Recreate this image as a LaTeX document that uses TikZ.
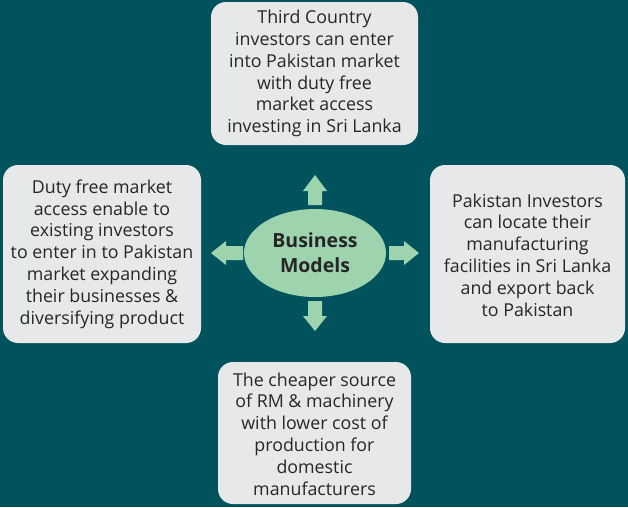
\documentclass[tikz,border=0pt]{standalone}
\usepackage{fontspec}
\setmainfont{Open Sans}
\usetikzlibrary{shapes.geometric}
\definecolor{bgteal}{HTML}{00535D}
\definecolor{boxgray}{HTML}{E7E8EA}
\definecolor{mint}{HTML}{9DD4AE}
\definecolor{inkdark}{HTML}{262626}
\tikzset{
  infobox/.style={fill=boxgray, rounded corners=15pt, draw=none},
  infotext/.style={align=center, text=inkdark, font=\fontsize{17.8}{21.8}\selectfont, inner sep=0pt},
  blockarrow/.style={fill=mint, draw=none}
}
\begin{document}
\begin{tikzpicture}[x=1pt,y=-1pt]
\useasboundingbox (0,0) rectangle (628,507);
\fill[bgteal] (0,0) rectangle (628,507);
% boxes
\fill[infobox] (211,2) rectangle (418,145);
\fill[infobox] (3,165) rectangle (201,343);
\fill[infobox] (430,165) rectangle (625,343);
\fill[infobox] (218,362) rectangle (411,504);
\node[infotext] (top) at (314.5,73.5) {Third Country\\investors can enter\\into Pakistan market\\with duty free\\market access\\investing in Sri Lanka};
\node[infotext] (left) at (102,254) {Duty free market\\access enable to\\existing investors\\to enter in to Pakistan\\market expanding\\their businesses \&\\diversifying product};
\node[infotext] (right) at (527.5,255) {Pakistan Investors\\can locate their\\manufacturing\\facilities in Sri Lanka\\and export back\\to Pakistan};
\node[infotext] (bottom) at (314.5,434) {The cheaper source\\of RM \& machinery\\with lower cost of\\production for\\domestic\\manufacturers};
% centre
\node[ellipse, fill=mint, minimum width=142pt, minimum height=88pt, inner sep=0pt, align=center, text=inkdark,
  font=\bfseries\fontsize{19.5}{25}\selectfont] (core) at (315,253) {Business\\Models};
% block arrows
\fill[blockarrow] (308,205) -- (308,191) -- (303,191) -- (315,175) -- (327,191) -- (322,191) -- (322,205) -- cycle;
\fill[blockarrow] (308,301) -- (308,316) -- (303,316) -- (315,331) -- (327,316) -- (322,316) -- (322,301) -- cycle;
\fill[blockarrow] (243,246) -- (226,246) -- (226,241) -- (211,253) -- (226,265) -- (226,260) -- (243,260) -- cycle;
\fill[blockarrow] (389,246) -- (404,246) -- (404,241) -- (419,253) -- (404,265) -- (404,260) -- (389,260) -- cycle;
\end{tikzpicture}
\end{document}
